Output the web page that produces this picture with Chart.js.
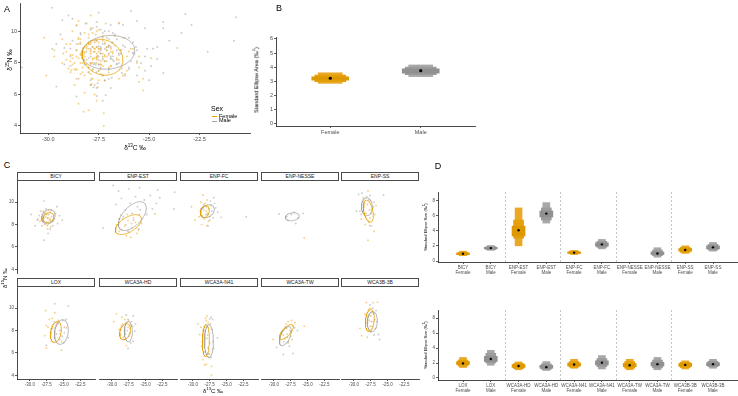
<!DOCTYPE html>
<html>
<head>
<meta charset="utf-8">
<script src="https://cdn.jsdelivr.net/npm/chart.js@4.4.1/dist/chart.umd.min.js"></script>
<style>
body{margin:0;width:738px;height:396px;overflow:hidden;background:#fff;position:relative;font-family:"Liberation Sans",Arial,sans-serif;}
canvas{position:absolute;}
.t{position:absolute;white-space:nowrap;color:#000;line-height:1;}
.t sup{font-size:70%;vertical-align:super;line-height:0;}
.strip{position:absolute;border:1px solid #4a4a4a;box-sizing:border-box;height:9px;font-size:5px;line-height:7px;text-align:center;color:#1a1a1a;background:#fff;}
</style>
</head>
<body>
<script>
// ---- data ----
const facets = ['BICY','ENP-EST','ENP-FC','ENP-NESSE','ENP-SS','LOX','WCA3A-HD','WCA3A-N41','WCA3A-TW','WCA3B-3B'];

const bicyF = [[-27.9,8.6],[-27.5,8.9],[-27.1,8.4],[-26.8,8.7],[-27.6,8.2],[-27.3,8.6],[-28.2,8.4],[-27.0,9.1],[-26.6,8.3],[-27.4,7.9],[-27.8,8.0],[-27.2,9.3],[-28.5,8.3],[-26.9,7.8],[-27.6,9.0],[-27.0,8.5],[-27.4,7.6],[-28.0,9.2],[-26.4,8.8],[-27.7,8.7],[-28.8,8.5],[-27.2,8.1]];
const bicyM = [[-29.8,8.9],[-28.9,8.4],[-28.4,9.2],[-28.2,7.9],[-27.9,10.1],[-27.9,6.6],[-27.6,9.4],[-27.5,8.2],[-27.2,8.9],[-27.0,7.6],[-26.8,9.3],[-26.5,8.5],[-26.2,9.0],[-25.9,8.1],[-25.6,8.8],[-25.2,8.4],[-28.6,8.8],[-27.4,8.6],[-26.9,8.3],[-27.8,9.0],[-28.0,8.3],[-26.6,7.9],[-26.0,9.6],[-27.3,7.2],[-29.2,7.9]];
const estF = [[-29.3,8.0],[-28.6,7.55],[-27.85,7.0],[-27.2,6.87],[-26.1,7.5],[-27.6,8.36],[-26.8,8.6],[-28.1,7.9],[-27.0,7.7],[-26.5,8.2],[-28.4,8.5],[-27.4,7.3],[-25.9,8.9],[-23.6,8.95],[-26.3,7.2],[-27.7,8.9],[-28.9,7.4],[-27.1,8.1]];
const estM = [[-29.8,11.5],[-29.0,11.0],[-27.5,11.2],[-25.9,11.3],[-28.6,10.35],[-23.2,11.1],[-20.7,10.9],[-20.8,9.4],[-22.9,10.4],[-23.4,9.9],[-31.3,7.7],[-25.6,8.1],[-24.8,8.9],[-26.2,9.6],[-27.3,9.9],[-28.0,9.3],[-26.8,8.4],[-27.9,8.0],[-25.2,10.2],[-24.3,10.6],[-26.5,10.5],[-28.3,8.7],[-27.0,9.0],[-25.8,9.3],[-29.4,9.8],[-26.0,7.6],[-24.0,9.4],[-27.6,7.4]];
const fcF = [[-28.5,10.65],[-30.2,9.6],[-29.7,8.4],[-28.7,8.0],[-27.9,7.9],[-28.4,9.3],[-28.0,9.6],[-27.8,9.0],[-28.6,8.8],[-28.2,9.9],[-27.6,9.4],[-28.9,9.2],[-27.5,8.7],[-28.3,8.5],[-28.0,9.2],[-27.3,9.7],[-29.1,8.7],[-28.5,9.5],[-27.9,10.2],[-28.8,10.0],[-27.7,8.3],[-28.1,8.9]];
const fcM = [[-26.8,9.9],[-25.8,8.65],[-22.1,8.7],[-27.75,7.9],[-27.4,10.1],[-27.2,9.2],[-26.6,9.5],[-28.4,9.8],[-27.0,8.6],[-26.3,9.1],[-27.9,8.9],[-28.8,9.4],[-26.9,10.4],[-27.5,8.4]];
const nesseF = [[-25.5,6.8]];
const nesseM = [[-29.2,8.95],[-25.65,9.0],[-26.75,8.1],[-27.9,8.4],[-27.4,8.9],[-28.1,8.7],[-26.4,8.6],[-27.0,9.1]];
const ssF = [[-27.9,11.0],[-27.0,7.4],[-27.9,6.6],[-28.9,8.5],[-28.2,9.0],[-27.6,8.6],[-27.3,9.4],[-28.0,9.8],[-27.8,8.2],[-28.5,9.6],[-27.5,10.1],[-26.9,8.9],[-28.3,8.0],[-27.7,9.3],[-29.1,9.2],[-27.4,7.9],[-26.7,9.7],[-28.6,10.4]];
const ssM = [[-29.3,10.7],[-28.8,10.8],[-25.6,10.65],[-29.6,9.2],[-27.65,7.9],[-27.1,9.6],[-28.4,9.9],[-27.8,10.2],[-28.6,9.2],[-27.4,9.0],[-28.1,10.5],[-27.0,10.0],[-28.9,8.9],[-27.6,10.6]];
const loxF = [[-27.65,9.8],[-26.3,9.6],[-27.55,8.45],[-27.8,7.55],[-27.55,6.45],[-25.3,6.25],[-25.3,7.0],[-26.6,8.2],[-26.0,8.7],[-26.9,7.8],[-25.6,8.0],[-26.2,7.3],[-27.1,9.0],[-25.8,8.9],[-26.5,7.0],[-27.3,8.3],[-25.5,7.7],[-26.1,8.4],[-26.7,9.1],[-24.9,8.3]];
const loxM = [[-26.3,10.4],[-24.3,10.2],[-24.6,8.25],[-24.3,7.35],[-27.55,6.7],[-25.1,8.9],[-25.6,7.2],[-24.9,7.8],[-25.8,8.6],[-25.0,6.9],[-26.0,7.7],[-24.6,9.0],[-25.4,8.0],[-26.4,8.8],[-25.2,7.5]];
const hdF = [[-29.3,9.5],[-29.7,8.8],[-28.6,8.4],[-28.2,8.0],[-27.85,6.66],[-28.4,8.6],[-28.0,7.7],[-27.6,8.3],[-28.3,7.4],[-28.9,8.1],[-27.5,8.9],[-28.1,9.0],[-28.7,7.6],[-27.3,7.8],[-27.9,8.7],[-28.5,9.2],[-27.2,8.5],[-28.2,7.2]];
const hdM = [[-27.85,9.4],[-26.85,9.3],[-26.6,7.95],[-26.5,8.6],[-26.85,7.05],[-27.6,6.4],[-27.3,8.2],[-27.5,7.5],[-27.1,8.8],[-27.7,8.0],[-27.2,6.9],[-26.9,8.4],[-27.6,9.0],[-27.4,7.7]];
const n41F = [[-29.25,8.6],[-29.0,7.65],[-28.7,6.6],[-28.5,5.4],[-28.25,4.9],[-27.25,4.8],[-27.25,4.0],[-27.74,8.7],[-28.1,9.1],[-28.4,8.0],[-27.9,7.3],[-28.2,6.1],[-27.6,5.6],[-28.6,7.0],[-27.8,8.3],[-28.0,5.0],[-27.5,6.9],[-28.8,8.3],[-27.9,9.3],[-28.3,7.7],[-27.7,6.0],[-28.0,8.9]];
const n41M = [[-27.5,9.05],[-27.3,9.2],[-26.35,7.35],[-27.75,6.45],[-27.2,8.1],[-27.0,7.0],[-27.6,5.9],[-27.4,8.6],[-26.9,6.4],[-27.1,9.0],[-27.8,7.6],[-27.3,5.6]];
const twF = [[-27.9,8.8],[-27.4,8.9],[-25.5,8.4],[-30.1,7.2],[-28.6,7.6],[-28.1,8.2],[-27.6,8.0],[-28.4,7.3],[-27.8,7.0],[-27.2,8.4],[-28.8,7.9],[-27.5,7.5],[-28.2,8.6],[-26.9,8.7],[-28.0,7.7],[-27.3,7.2]];
const twM = [[-28.6,5.86],[-27.15,5.95],[-29.6,6.5],[-26.9,8.25],[-26.5,8.0],[-28.5,7.0],[-28.0,7.4],[-27.7,6.6],[-28.9,7.8],[-27.5,7.9],[-28.3,8.3],[-27.9,6.9]];
const b3F = [[-28.15,10.5],[-27.15,10.5],[-26.5,10.55],[-29.1,8.2],[-28.85,7.55],[-28.0,7.4],[-27.6,8.4],[-27.9,9.2],[-27.3,9.6],[-27.7,8.9],[-28.2,8.7],[-27.4,8.1],[-27.8,9.9],[-27.5,9.3],[-28.4,9.5],[-27.1,8.8],[-27.9,8.0],[-27.6,10.0]];
const b3M = [[-26.6,8.8],[-26.35,7.65],[-26.2,7.2],[-27.6,10.3],[-27.0,9.5],[-27.3,8.4],[-26.9,9.0],[-27.5,7.9],[-26.8,8.2],[-27.7,9.4],[-27.2,10.0],[-26.7,9.8],[-27.4,8.8],[-27.0,7.6]];

const facetF = [bicyF, estF, fcF, nesseF, ssF, loxF, hdF, n41F, twF, b3F];
const facetM = [bicyM, estM, fcM, nesseM, ssM, loxM, hdM, n41M, twM, b3M];

// standard ellipses: [centre x, centre y, half width x, half height y, tilt phase]
const ellF = [[-27.26,8.62,0.8,0.45,0.2],[-27.55,8.0,1.93,0.89,0.6],[-28.22,9.16,0.66,0.54,0.2],null,[-27.85,9.2,0.74,0.98,-0.4],
              [-26.14,7.87,0.81,0.94,0.3],[-28.04,7.9,0.81,0.71,0.3],[-28.07,7.11,0.52,1.43,0.1],[-28.14,7.87,1.03,0.67,0.8],[-27.63,8.9,0.66,0.98,0.2]];
const ellM = [[-27.26,8.7,1.0,0.64,0.2],[-26.96,8.76,2.07,1.29,0.6],[-27.85,9.2,1.03,0.58,0.3],[-27.26,8.7,1.03,0.36,0.2],[-28.07,9.6,0.8,0.8,0],
              [-25.33,7.87,1.03,1.1,0.2],[-27.55,7.9,0.59,0.9,0],[-27.62,7.06,0.66,1.47,0],[-28.29,7.5,0.88,0.85,0.6],[-27.26,8.8,0.74,0.9,0.1]];
const ellAllF = [-27.31,8.36,1.01,1.14,-0.15];
const ellAllM = [-27.02,8.67,1.31,1.07,0.1];

const xTicksC = [-30, -27.5, -25, -22.5];
const yTicksC = [4, 6, 8, 10];

// panel B
const bSex = ['Female','Male'];
const bMode = [3.2, 3.74];
const b95 = [[2.84,3.59],[3.32,4.15]];
const b75 = [[2.95,3.42],[3.45,4.0]];
const b50 = [[3.07,3.31],[3.57,3.87]];
const bTicks = [0,1,2,3,4,5,6];

// panel D
const dSex = ['Female','Male','Female','Male','Female','Male','Female','Male','Female','Male'];
const dTopLabels = ['BICY','BICY','ENP-EST','ENP-EST','ENP-FC','ENP-FC','ENP-NESSE','ENP-NESSE','ENP-SS','ENP-SS'];
const dTopMode = [0.95,1.7,4.05,6.25,1.1,2.2,null,1.0,1.45,1.8];
const dTop95 = [[0.7,1.3],[1.4,2.05],[2.0,7.0],[5.0,7.7],[0.85,1.4],[1.6,2.85],null,[0.5,1.75],[1.0,2.0],[1.3,2.45]];
const dTop75 = [[0.8,1.15],[1.5,1.9],[3.0,5.4],[5.4,7.0],[0.95,1.3],[1.8,2.6],null,[0.7,1.45],[1.15,1.8],[1.45,2.2]];
const dTop50 = [[0.85,1.05],[1.6,1.8],[3.3,4.6],[5.8,6.6],[1.0,1.2],[1.95,2.4],null,[0.85,1.2],[1.3,1.65],[1.6,2.0]];
const dBotLabels = ['LOX','LOX','WCA3A-HD','WCA3A-HD','WCA3A-N41','WCA3A-N41','WCA3A-TW','WCA3A-TW','WCA3B-3B','WCA3B-3B'];
const dBotMode = [1.95,2.55,1.6,1.45,1.8,2.05,1.7,1.85,1.75,1.85];
const dBot95 = [[1.4,2.75],[1.7,3.7],[1.1,2.15],[1.0,2.2],[1.3,2.5],[1.2,3.0],[1.1,2.5],[1.1,2.75],[1.2,2.3],[1.3,2.5]];
const dBot75 = [[1.6,2.4],[2.0,3.3],[1.25,1.95],[1.15,1.9],[1.45,2.2],[1.5,2.6],[1.3,2.2],[1.35,2.4],[1.4,2.1],[1.5,2.25]];
const dBot50 = [[1.8,2.2],[2.2,2.9],[1.4,1.8],[1.3,1.7],[1.6,2.0],[1.75,2.3],[1.5,1.95],[1.6,2.1],[1.55,1.95],[1.65,2.05]];
const dTicks = [0,2,4,6,8];
const sepPos = [1.5,3.5,5.5,7.5];

// ---- drawing ----
const FONT = '"Liberation Sans", Arial, sans-serif';
const ORANGE = '#E69F00', GREY = '#A3A3A3';
const fillF = ['#EBA826','#E5A00B','#DE9900'];
const fillM = ['#A8A8A8','#9C9C9C','#909090'];

function ellipse(p) {
  const [cx, cy, rx, ry, ph] = p;
  const out = [];
  for (let i = 0; i <= 80; i++) {
    const t = i / 80 * 2 * Math.PI;
    out.push({ x: cx + rx * Math.cos(t), y: cy + ry * Math.sin(t + ph) });
  }
  return out;
}
const pts = arr => arr.map(p => ({ x: p[0], y: p[1] }));

function label(html, x, y, size, rot) {
  const d = document.createElement('div');
  d.className = 't';
  d.innerHTML = html;
  d.style.left = x + 'px';
  d.style.top = y + 'px';
  d.style.fontSize = size + 'px';
  d.style.transform = 'translate(-50%,-50%)' + (rot ? ' rotate(-90deg)' : '');
  document.body.appendChild(d);
  return d;
}

function axis(o) {
  return {
    type: 'linear', min: o.min, max: o.max, offset: false,
    afterBuildTicks: s => { s.ticks = o.ticks.map(v => ({ value: v })); },
    afterFit: s => { if (s.isHorizontal()) s.height = o.size; else s.width = o.size; },
    border: { display: !!o.line, color: '#1a1a1a', width: 0.8 },
    grid: { display: !!o.labels, offset: false, drawOnChartArea: false, drawTicks: true, tickLength: 2, color: '#333', lineWidth: 0.8 },
    ticks: { display: !!o.labels, padding: 1, color: '#4D4D4D', autoSkip: false, maxRotation: 0, minRotation: 0,
             font: { size: o.font, family: FONT, lineHeight: 1.15 }, callback: o.labels || (() => '') }
  };
}

function place(plot, m, cfg) {
  const c = document.createElement('canvas');
  const w = plot[2] - plot[0] + m.l + m.r, h = plot[3] - plot[1] + m.t + m.b;
  c.width = w; c.height = h;
  c.style.left = (plot[0] - m.l) + 'px';
  c.style.top = (plot[1] - m.t) + 'px';
  c.style.width = w + 'px'; c.style.height = h + 'px';
  document.body.appendChild(c);
  cfg.options = Object.assign({
    responsive: false, animation: false, devicePixelRatio: 1,
    layout: { padding: { left: 0, top: m.t, right: m.r, bottom: 0 } },
    events: []
  }, cfg.options);
  cfg.options.plugins = Object.assign({ legend: { display: false }, tooltip: { enabled: false } }, cfg.options.plugins);
  return new Chart(c, cfg);
}

function scatterSets(fArr, mArr, eF, eM, r) {
  const sets = [];
  if (eF) sets.push({ type: 'scatter', data: ellipse(eF), showLine: true, borderColor: ORANGE, borderWidth: 0.75, pointRadius: 0 });
  if (eM) sets.push({ type: 'scatter', data: ellipse(eM), showLine: true, borderColor: GREY, borderWidth: 0.75, pointRadius: 0 });
  sets.push({ data: pts(fArr), pointRadius: r, borderWidth: 0, backgroundColor: 'rgba(236,166,20,0.5)' });
  sets.push({ data: pts(mArr), pointRadius: r, borderWidth: 0, backgroundColor: 'rgba(165,165,165,0.55)' });
  return sets;
}

// panel A
const allF = [].concat(...facetF), allM = [].concat(...facetM);
place([20, 3, 250, 133], { l: 20, t: 10, r: 6, b: 14 }, {
  type: 'scatter',
  data: { datasets: scatterSets(allF, allM, ellAllF, ellAllM, 1.0) },
  options: { scales: {
    x: axis({ min: -31.4, max: -20.0, ticks: xTicksC, size: 14, font: 5.5, line: true, labels: v => v.toFixed(1) }),
    y: axis({ min: 3.55, max: 11.8, ticks: yTicksC, size: 20, font: 5.5, line: true, labels: v => String(v) })
  } }
});

// box charts (B and D)
function boxSets(mode, c95, c75, c50, sex, widths, r) {
  const bars = arr => arr.map((v, i) => v ? { x: i, y: v } : null).filter(Boolean);
  const fill = k => c => sex[c.raw.x] === 'Female' ? fillF[k] : fillM[k];
  return [
    { type: 'scatter', data: mode.map((v, i) => v == null ? null : { x: i, y: v }).filter(Boolean), pointRadius: r, backgroundColor: '#000', borderWidth: 0 },
    { type: 'bar', data: bars(c50), barThickness: widths[2], grouped: false, backgroundColor: fill(2), borderWidth: 0 },
    { type: 'bar', data: bars(c75), barThickness: widths[1], grouped: false, backgroundColor: fill(1), borderWidth: 0 },
    { type: 'bar', data: bars(c95), barThickness: widths[0], grouped: false, backgroundColor: fill(0), borderWidth: 0 }
  ];
}

const sepPlugin = {
  id: 'seps',
  beforeDatasetsDraw(chart, args, opts) {
    if (!opts || !opts.at) return;
    const { ctx, chartArea, scales } = chart;
    ctx.save();
    ctx.strokeStyle = '#b5b5b5'; ctx.lineWidth = 0.8; ctx.setLineDash([2, 2]);
    opts.at.forEach(v => {
      const px = Math.round(scales.x.getPixelForValue(v)) + 0.5;
      ctx.beginPath(); ctx.moveTo(px, chartArea.top); ctx.lineTo(px, chartArea.bottom); ctx.stroke();
    });
    ctx.restore();
  }
};

// panel B
place([276, 37, 475, 126], { l: 21, t: 10, r: 5, b: 14 }, {
  type: 'bar',
  data: { datasets: boxSets(bMode, b95, b75, b50, bSex, [24, 31, 37], 1.6) },
  options: { scales: {
    x: axis({ min: -0.6, max: 1.6, ticks: [0, 1], size: 14, font: 5.5, line: true, labels: (v, i) => bSex[i] }),
    y: axis({ min: -0.2, max: 6.14, ticks: bTicks, size: 21, font: 5.5, line: true, labels: v => String(v) })
  } }
});

// panel D
function dChart(plot, labels, mode, c95, c75, c50, yMin) {
  place(plot, { l: 14, t: 10, r: 5, b: 14 }, {
    type: 'bar',
    data: { datasets: boxSets(mode, c95, c75, c50, dSex, [7, 10, 13], 1.2) },
    plugins: [sepPlugin],
    options: {
      plugins: { seps: { at: sepPos } },
      scales: {
        x: axis({ min: -0.9, max: 9.9, ticks: [0,1,2,3,4,5,6,7,8,9], size: 14, font: 4.5, line: true, labels: (v, i) => [labels[i], dSex[i]] }),
        y: axis({ min: yMin, max: 9.1, ticks: dTicks, size: 14, font: 4.5, line: true, labels: v => String(v) })
      }
    }
  });
}
dChart([438, 192, 738, 262], dTopLabels, dTopMode, dTop95, dTop75, dTop50, -0.13);
dChart([438, 310, 738, 380], dBotLabels, dBotMode, dBot95, dBot75, dBot50, -0.27);

// panel C
const colLeft = [17, 99, 180, 261, 341];
const rowTop = [181, 287], rowBot = [273, 379];
facets.forEach((name, i) => {
  const col = i % 5, row = Math.floor(i / 5);
  const L = colLeft[col];
  place([L, rowTop[row], L + 78, rowBot[row]], { l: 15, t: 10, r: 5, b: row ? 12 : 10 }, {
    type: 'scatter',
    data: { datasets: scatterSets(facetF[i], facetM[i], ellF[i], ellM[i], 0.95) },
    options: { scales: {
      x: axis({ min: -31.9, max: -20.35, ticks: xTicksC, size: row ? 12 : 10, font: 4.5, line: row === 1, labels: row ? (v => v.toFixed(1)) : null }),
      y: axis({ min: 3.67, max: 11.9, ticks: yTicksC, size: 15, font: 4.5, line: col === 0, labels: col === 0 ? (v => String(v)) : null })
    } }
  });
  const s = document.createElement('div');
  s.className = 'strip';
  s.textContent = name;
  s.style.left = L + 'px';
  s.style.top = (row ? 278 : 172) + 'px';
  s.style.width = '78px';
  document.body.appendChild(s);
});

// titles, panel letters, legend
label('A', 7, 9, 9);
label('B', 279, 8, 9);
label('C', 7, 165, 9);
label('D', 438, 166, 9);
label('δ<sup>15</sup>N ‰', 10, 60, 6.5, true);
label('δ<sup>13</sup>C ‰', 135, 148, 6.5);
label('Standard Ellipse Area (‰<sup>2</sup>)', 257, 80, 5.5, true);
label('δ<sup>15</sup>N ‰', 5, 278, 6, true);
label('δ<sup>13</sup>C ‰', 213, 391, 6);
label('Standard Ellipse Size (‰<sup>2</sup>)', 426, 227, 4, true);
label('Standard Ellipse Size (‰<sup>2</sup>)', 426, 345, 4, true);

label('Sex', 217, 108, 7);
[['Female', ORANGE, 116.5], ['Male', GREY, 121]].forEach(([txt, col, y]) => {
  const k = document.createElement('div');
  k.style.cssText = 'position:absolute;left:212px;width:5px;height:0;border-top:1px solid ' + col + ';top:' + (y - 0.5) + 'px;';
  document.body.appendChild(k);
  const t = label(txt, 219, y, 5.5);
  t.style.transform = 'translate(0,-50%)';
});
</script>
</body>
</html>
